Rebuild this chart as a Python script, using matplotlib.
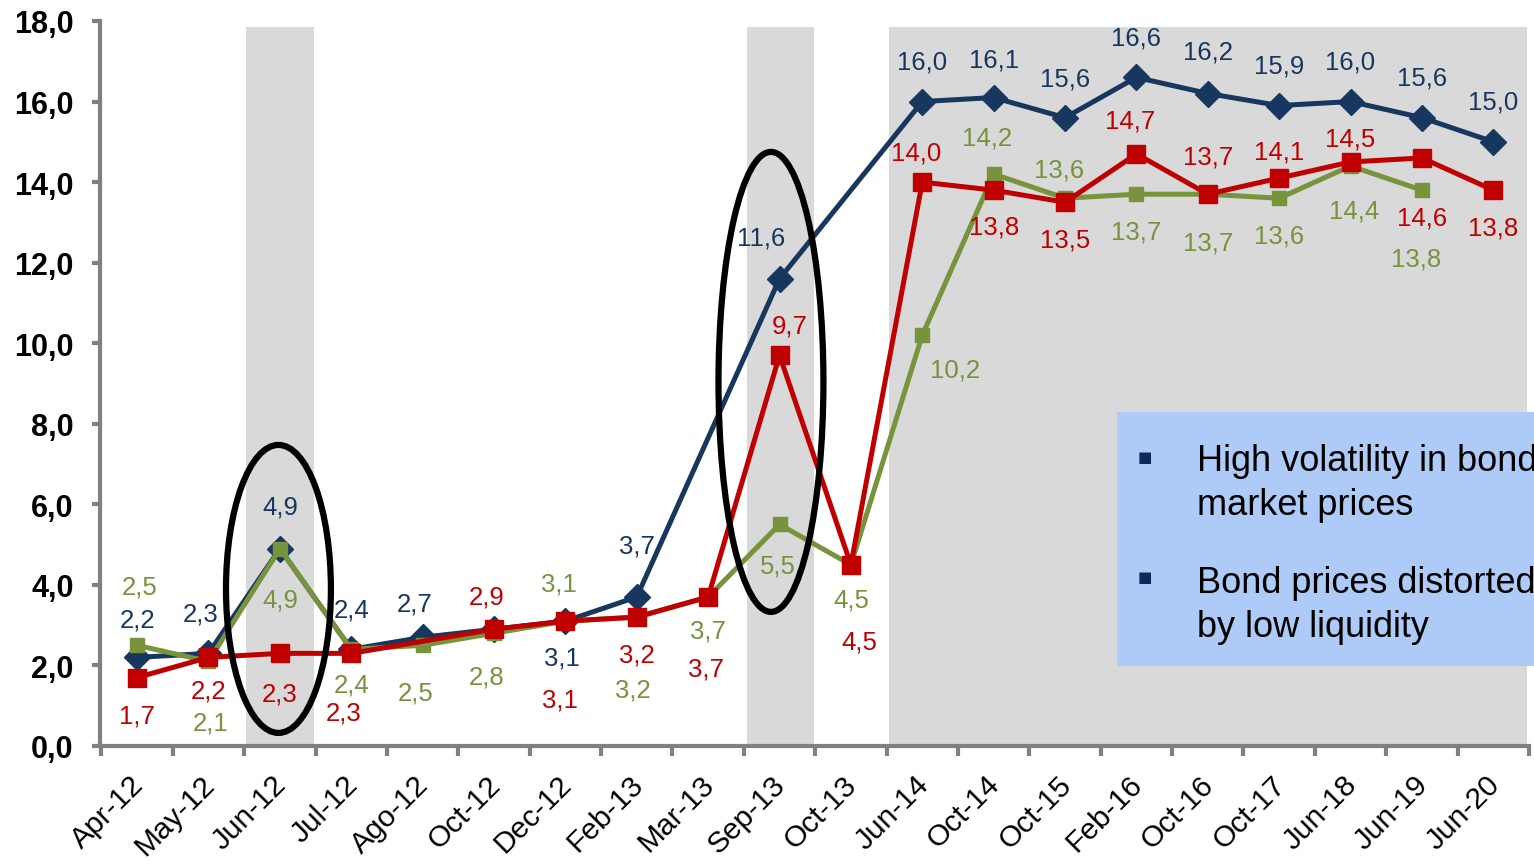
import numpy as np
import matplotlib
matplotlib.use("Agg")
import matplotlib.pyplot as plt
import matplotlib.transforms as mtransforms
from matplotlib.patches import Ellipse, Rectangle

plt.rcParams["font.family"] = ["Liberation Sans", "DejaVu Sans"]

# Categories and the three series (None = no point for that date)
categories = ["Apr-12", "May-12", "Jun-12", "Jul-12", "Ago-12", "Oct-12", "Dec-12",
              "Feb-13", "Mar-13", "Sep-13", "Oct-13", "Jun-14", "Oct-14", "Oct-15",
              "Feb-16", "Oct-16", "Oct-17", "Jun-18", "Jun-19", "Jun-20"]
blueVals  = [2.2, 2.3, 4.9, 2.4, 2.7, 2.9, 3.1, 3.7, None, 11.6, None,
             16.0, 16.1, 15.6, 16.6, 16.2, 15.9, 16.0, 15.6, 15.0]
redVals   = [1.7, 2.2, 2.3, 2.3, None, 2.9, 3.1, 3.2, 3.7, 9.7, 4.5,
             14.0, 13.8, 13.5, 14.7, 13.7, 14.1, 14.5, 14.6, 13.8]
greenVals = [2.5, 2.1, 4.9, 2.4, 2.5, 2.8, 3.1, 3.2, 3.7, 5.5, 4.5,
             10.2, 14.2, 13.6, 13.7, 13.7, 13.6, 14.4, 13.8, None]

# Which points carry a label (Oct-12 blue has none)
blueShow = [True] * 20
blueShow[5] = False

# Label offsets in pixels (dx, dy), dy positive = up
blueOff = [(0, 38), (-8, 40), (0, 42), (0, 40), (-8, 34), (0, 0), (-3, -36), (0, 51),
           None, (-18, 41), None, (0, 40), (0, 38), (0, 39), (0, 40), (0, 42),
           (0, 40), (0, 40), (0, 40), (0, 40)]
redOff = [(0, -38), (0, -33), (0, -40), (-8, -59), None, (-7, 33), (-5, -78), (0, -37),
          (-2, -72), (10, 30), (8, -77), (-6, 30), (0, -36), (0, -37), (-6, 33),
          (0, 38), (0, 27), (0, 23), (0, -60), (0, -37)]
greenOff = [(3, 59), (2, -61), (0, -51), (0, -35), (-7, -47), (-7, -43), (-6, 38),
            (-4, -72), (0, -34), (-2, -41), (0, -35), (33, -34), (-7, 37), (-6, 29),
            (0, -37), (0, -48), (0, -37), (4, -45), (-6, -68), None]

blueColor = "#17375E"
redColor = "#C00000"
greenColor = "#77933C"
shadeColor = "#D9D9D9"
axisColor = "#808080"

fig = plt.figure(figsize=(15.34, 8.62), dpi=100)
ax = fig.add_axes([100 / 1534, 1 - 747 / 862, (1529 - 100) / 1534, (747 - 22) / 862])

x = np.arange(len(categories))

# Grey shaded periods
for left, right in [(1.52, 2.48), (8.55, 9.48), (10.53, 19.47)]:
    ax.axvspan(left, right, ymin=0, ymax=17.85 / 18, color=shadeColor, lw=0, zorder=0)


def drawSeries(vals, color, marker, msize, offsets, show=None, z=3):
    pts = [(i, v) for i, v in enumerate(vals) if v is not None]
    xs = [p[0] for p in pts]
    ys = [p[1] for p in pts]
    ax.plot(xs, ys, color=color, linewidth=3.6, marker=marker, markersize=msize,
            markerfacecolor=color, markeredgecolor=color, zorder=z)
    for i, v in pts:
        if show is not None and not show[i]:
            continue
        dx, dy = offsets[i]
        ax.annotate(f"{v:.1f}".replace(".", ","), (i, v), xytext=(dx, dy),
                    textcoords="offset pixels", ha="center", va="center",
                    fontsize=18.5, color=color, zorder=6)


drawSeries(blueVals, blueColor, "D", 13, blueOff, blueShow, z=3)
drawSeries(greenVals, greenColor, "s", 10, greenOff, z=4)
drawSeries(redVals, redColor, "s", 13, redOff, z=5)

# Ellipses highlighting the two stress episodes
ax.add_patch(Ellipse((1.98, 3.9), 1.47, 7.15, fill=False, edgecolor="black", lw=4.5, zorder=7))
ax.add_patch(Ellipse((8.88, 9.04), 1.47, 11.42, fill=False, edgecolor="black", lw=4.5, zorder=7))

# Axes styling
ax.set_xlim(-0.52, 19.5)
ax.set_ylim(0, 18)
ax.set_yticks(np.arange(0, 19, 2))
ax.set_yticklabels([f"{v:.1f}".replace(".", ",") for v in np.arange(0, 19, 2)],
                   fontsize=22, fontweight="bold")
ax.set_xticks(x)
ax.set_xticklabels(categories, rotation=45, ha="right", rotation_mode="anchor", fontsize=21.5)
ax.set_xticks(np.arange(-0.5, 20, 1), minor=True)
ax.tick_params(axis="x", which="major", length=0, pad=17)
ax.tick_params(axis="x", which="minor", length=7, width=3, color=axisColor)
ax.tick_params(axis="y", length=6, width=3, color=axisColor, pad=13)
shift = mtransforms.ScaledTranslation(-8 / 100, 0, fig.dpi_scale_trans)
for lbl in ax.get_xticklabels():
    lbl.set_transform(lbl.get_transform() + shift)
for side in ["top", "right"]:
    ax.spines[side].set_visible(False)
for side in ["left", "bottom"]:
    ax.spines[side].set_color(axisColor)
    ax.spines[side].set_linewidth(3)

# Blue note box (runs off the right edge as in the source)
fig.patches.append(Rectangle((1117 / 1534, 1 - 667 / 862), 0.3, (667 - 413) / 862,
                             transform=fig.transFigure, facecolor="#ADCBF6",
                             edgecolor="none", zorder=8))
for yc in [458, 578]:
    fig.text(1145 / 1534, 1 - yc / 862, "\u25A0", fontsize=11, color="#10295C",
             ha="center", va="center", zorder=9, family="DejaVu Sans")
noteLines = ["High volatility in bond", "market prices",
             "Bond prices distorted", "by low liquidity"]
noteBaselines = [471, 515, 593, 637]
for txt, yb in zip(noteLines, noteBaselines):
    fig.text(1197 / 1534, 1 - yb / 862, txt, fontsize=26, ha="left",
             va="baseline", zorder=9)

fig.savefig("out.png", dpi=100)
